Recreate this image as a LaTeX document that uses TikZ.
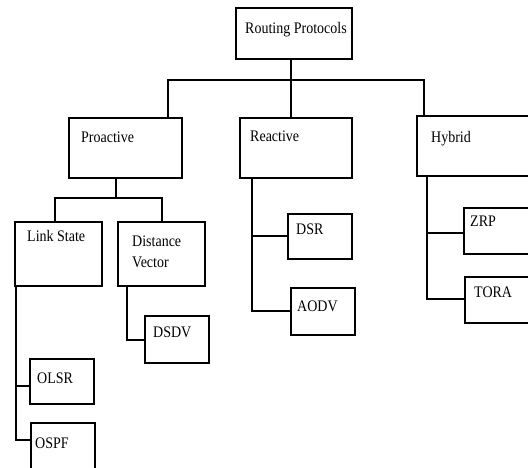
\documentclass[tikz,border=0pt]{standalone}
\usepackage{fontspec}
\setmainfont{Liberation Serif}
\usepackage{graphicx}
\newcommand\tlbl[1]{\scalebox{1}[1.15]{#1}}
\begin{document}
\begin{tikzpicture}[x=1pt,y=-1pt,
  box/.style={draw,line width=1.3pt,rectangle,anchor=north west,inner sep=0pt,outer sep=0pt},
  conn/.style={draw,line width=1.3pt},
  txt/.style={anchor=base west,inner sep=0pt,font=\fontsize{14}{16}\selectfont}]
\useasboundingbox (0,0) rectangle (528,468);
\clip (0,0) rectangle (528,468);
% boxes
\node[box,minimum width=116pt,minimum height=51pt] (rp) at (236,8) {};
\node[box,minimum width=113pt,minimum height=60pt] (pro) at (69,118) {};
\node[box,minimum width=112pt,minimum height=60pt] (rea) at (240,118) {};
\node[box,minimum width=143pt,minimum height=60pt] (hyb) at (417,116) {};
\node[box,minimum width=87pt,minimum height=64pt] (ls) at (15,222) {};
\node[box,minimum width=87pt,minimum height=64pt] (dv) at (118,222) {};
\node[box,minimum width=64pt,minimum height=45pt] (dsr) at (288,214) {};
\node[box,minimum width=64pt,minimum height=47pt] (aodv) at (291,288) {};
\node[box,minimum width=64pt,minimum height=47pt] (dsdv) at (145,316) {};
\node[box,minimum width=64pt,minimum height=45pt] (olsr) at (30,359) {};
\node[box,minimum width=64pt,minimum height=60pt] (ospf) at (31,423) {};
\node[box,minimum width=80pt,minimum height=46pt] (zrp) at (464,208) {};
\node[box,minimum width=80pt,minimum height=46pt] (tora) at (465,277) {};
% labels
\node[txt] (trp) at (245,34) {\tlbl{Routing Protocols}};
\node[txt] (tpro) at (81,143) {\tlbl{Proactive}};
\node[txt] (trea) at (250,142) {\tlbl{Reactive}};
\node[txt] (thyb) at (431,143) {\tlbl{Hybrid}};
\node[txt] (tls) at (27,241) {\tlbl{Link State}};
\node[txt] (tdv1) at (132,247) {\tlbl{Distance}};
\node[txt] (tdv2) at (132,268) {\tlbl{Vector}};
\node[txt] (tdsr) at (296,234) {\tlbl{DSR}};
\node[txt] (taodv) at (297,311) {\tlbl{AODV}};
\node[txt] (tdsdv) at (153,337) {\tlbl{DSDV}};
\node[txt] (tolsr) at (37,383) {\tlbl{OLSR}};
\node[txt] (tospf) at (35,448) {\tlbl{OSPF}};
\node[txt] (tzrp) at (470,226) {\tlbl{ZRP}};
\node[txt] (ttora) at (474,297) {\tlbl{TORA}};
% junction coordinates
\coordinate (ja) at (168,80);
\coordinate (jb) at (291,80);
\coordinate (jc) at (424,80);
\coordinate (jp) at (116,198);
\coordinate (jpl) at (55,198);
\coordinate (jpr) at (162,198);
\coordinate (jls) at (16,386);
\coordinate (jls2) at (16,440);
\coordinate (jdv) at (127,340);
\coordinate (jre) at (252,236);
\coordinate (jre2) at (252,311);
\coordinate (jhy) at (427,233);
\coordinate (jhy2) at (427,299);
% connectors
\draw[conn] (rp.south -| jb) -- (jb);
\draw[conn] (pro.north -| ja) -- (ja) -- (jc) -- (hyb.north -| jc);
\draw[conn] (jb) -- (rea.north -| jb);
\draw[conn] (pro.south -| jp) -- (jp);
\draw[conn] (ls.north -| jpl) -- (jpl) -- (jpr) -- (dv.north -| jpr);
\draw[conn] (ls.south -| jls) -- (jls2) -- (ospf.west |- jls2);
\draw[conn] (jls) -- (olsr.west |- jls);
\draw[conn] (dv.south -| jdv) -- (jdv) -- (dsdv.west |- jdv);
\draw[conn] (rea.south -| jre) -- (jre2) -- (aodv.west |- jre2);
\draw[conn] (jre) -- (dsr.west |- jre);
\draw[conn] (hyb.south -| jhy) -- (jhy2) -- (tora.west |- jhy2);
\draw[conn] (jhy) -- (zrp.west |- jhy);
\end{tikzpicture}
\end{document}
